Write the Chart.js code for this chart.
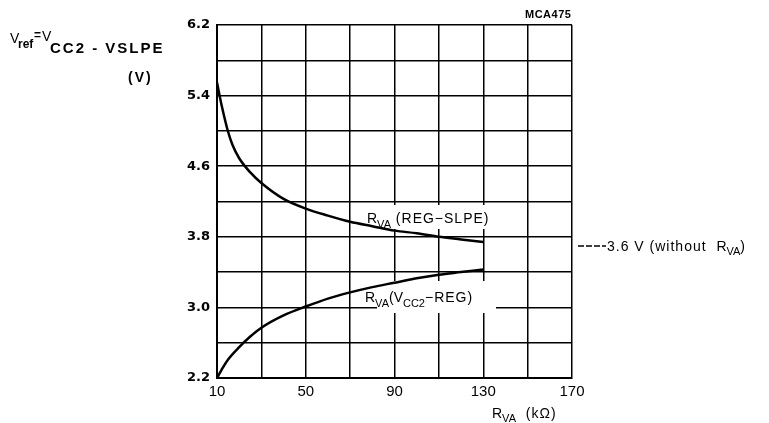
<!DOCTYPE html>
<html>
<head>
<meta charset="utf-8">
<script src="https://cdn.jsdelivr.net/npm/chart.js@4.4.1/dist/chart.umd.min.js"></script>
<style>
  body { margin: 0; background: #fff; }
  canvas { display: block; }
</style>
</head>
<body>
<canvas id="chart" width="769" height="423"></canvas>
<script>
// values
const rvaUpper = [10, 11, 12, 15, 17, 20, 25, 30, 40, 50, 60, 70, 80, 90, 100, 110, 120, 130];
const vRegSlpe = [5.55, 5.42, 5.30, 4.99, 4.84, 4.69, 4.53, 4.41, 4.23, 4.12, 4.04, 3.97, 3.92, 3.87, 3.84, 3.80, 3.77, 3.74];
const rvaLower = [10, 12, 15, 20, 25, 30, 40, 50, 60, 70, 80, 90, 100, 110, 120, 130];
const vCc2Reg = [2.20, 2.29, 2.41, 2.55, 2.67, 2.77, 2.91, 3.01, 3.10, 3.17, 3.23, 3.28, 3.33, 3.37, 3.40, 3.43];

const xTicks = [10, 30, 50, 70, 90, 110, 130, 150, 170];
const xLabels = ['10', '', '50', '', '90', '', '130', '', '170'];
const yTicks = [2.2, 2.6, 3.0, 3.4, 3.8, 4.2, 4.6, 5.0, 5.4, 5.8, 6.2];
const yLabels = ['2.2', '', '3.0', '', '3.8', '', '4.6', '', '5.4', '', '6.2'];

const FONT = 'Liberation Sans, Arial, sans-serif';

// draws a run of text pieces, each with its own font / baseline shift
function drawRich(ctx, x, y, parts) {
    parts.forEach(p => {
        ctx.font = p.font;
        ctx.letterSpacing = (p.ls || 0) + 'px';
        ctx.fillText(p.text, x, y + (p.dy || 0));
        x += ctx.measureText(p.text).width;
    });
    ctx.letterSpacing = '0px';
}

const main = '14px ' + FONT;
const sub = '11px ' + FONT;

const annotations = {
    id: 'annotations',
    beforeDatasetsDraw(chart) {
        // labels sit on blanked-out grid
        const ctx = chart.ctx;
        ctx.save();
        ctx.fillStyle = '#fff';
        ctx.fillRect(365, 205, 132, 24);
        ctx.fillRect(377, 281, 119, 32);
        ctx.restore();
    },
    afterDraw(chart) {
        const ctx = chart.ctx;
        ctx.save();
        ctx.fillStyle = '#000';
        ctx.textBaseline = 'alphabetic';

        // y axis title
        drawRich(ctx, 10, 43, [{ text: 'V', font: main }]);
        drawRich(ctx, 18, 48, [{ text: 'ref', font: 'bold 12px ' + FONT }]);
        drawRich(ctx, 34, 39, [{ text: '=', font: 'bold 12px ' + FONT }]);
        drawRich(ctx, 42, 41, [{ text: 'V', font: main }]);
        drawRich(ctx, 50, 53, [{ text: 'CC2 - VSLPE', font: 'bold 15px ' + FONT, ls: 2 }]);
        drawRich(ctx, 128, 82, [{ text: '(V)', font: 'bold 14px ' + FONT, ls: 2 }]);

        // figure code
        drawRich(ctx, 525, 18, [{ text: 'MCA475', font: 'bold 11px ' + FONT, ls: 0.5 }]);

        // curve labels
        drawRich(ctx, 367, 223, [
            { text: 'R', font: main },
            { text: 'VA', font: sub, dy: 5 },
            { text: ' (REG\u2212SLPE)', font: main, ls: 1 }
        ]);
        drawRich(ctx, 365, 302, [
            { text: 'R', font: main },
            { text: 'VA', font: sub, dy: 5 },
            { text: '(V', font: main },
            { text: 'CC2', font: sub, dy: 5 },
            { text: '\u2212REG)', font: main, ls: 1 }
        ]);

        // reference level note
        ctx.strokeStyle = '#000';
        ctx.lineWidth = 1.5;
        ctx.setLineDash([6, 2]);
        ctx.beginPath();
        ctx.moveTo(578, 246);
        ctx.lineTo(606, 246);
        ctx.stroke();
        ctx.setLineDash([]);
        drawRich(ctx, 607, 251, [
            { text: '3.6 V (without  ', font: main, ls: 1 },
            { text: 'R', font: main },
            { text: 'VA', font: sub, dy: 4 },
            { text: ')', font: main }
        ]);

        // x axis title
        drawRich(ctx, 492, 418, [
            { text: 'R', font: main },
            { text: 'VA', font: sub, dy: 4 },
            { text: '  (k\u03a9)', font: main, ls: 1 }
        ]);
        ctx.restore();
    }
};

new Chart(document.getElementById('chart'), {
    type: 'line',
    data: {
        datasets: [
            {
                label: 'RVA (REG-SLPE)',
                data: rvaUpper.map((x, i) => ({ x: x, y: vRegSlpe[i] })),
                borderColor: '#000',
                borderWidth: 2.5,
                pointRadius: 0,
                cubicInterpolationMode: 'monotone',
                fill: false
            },
            {
                label: 'RVA (VCC2-REG)',
                data: rvaLower.map((x, i) => ({ x: x, y: vCc2Reg[i] })),
                borderColor: '#000',
                borderWidth: 2.5,
                pointRadius: 0,
                cubicInterpolationMode: 'monotone',
                fill: false
            }
        ]
    },
    options: {
        responsive: false,
        animation: false,
        layout: { padding: { left: 0, top: 25, right: 197, bottom: 0 } },
        plugins: {
            legend: { display: false },
            tooltip: { enabled: false }
        },
        scales: {
            x: {
                type: 'linear',
                min: 10,
                max: 170,
                afterBuildTicks: s => { s.ticks = xTicks.map(v => ({ value: v })); },
                afterFit: s => { s.height = 45; },
                grid: { color: '#000', lineWidth: 1.5, drawTicks: false },
                border: { color: '#000', width: 2 },
                ticks: {
                    autoSkip: false,
                    maxRotation: 0,
                    padding: 5,
                    color: '#000',
                    font: { family: FONT, size: 15 },
                    callback: (v) => xLabels[xTicks.indexOf(v)] ?? ''
                }
            },
            y: {
                min: 2.2,
                max: 6.2,
                afterBuildTicks: s => { s.ticks = yTicks.map(v => ({ value: v })); },
                afterFit: s => { s.width = 217; },
                grid: { color: '#000', lineWidth: 1.5, drawTicks: false },
                border: { color: '#000', width: 2 },
                ticks: {
                    autoSkip: false,
                    padding: 7,
                    color: '#000',
                    font: { family: 'DejaVu Sans', size: 13, weight: 'bold' },
                    callback: (v) => {
                        const i = yTicks.findIndex(t => Math.abs(t - v) < 1e-6);
                        return i >= 0 ? yLabels[i] : '';
                    }
                }
            }
        }
    },
    plugins: [annotations]
});
</script>
</body>
</html>
